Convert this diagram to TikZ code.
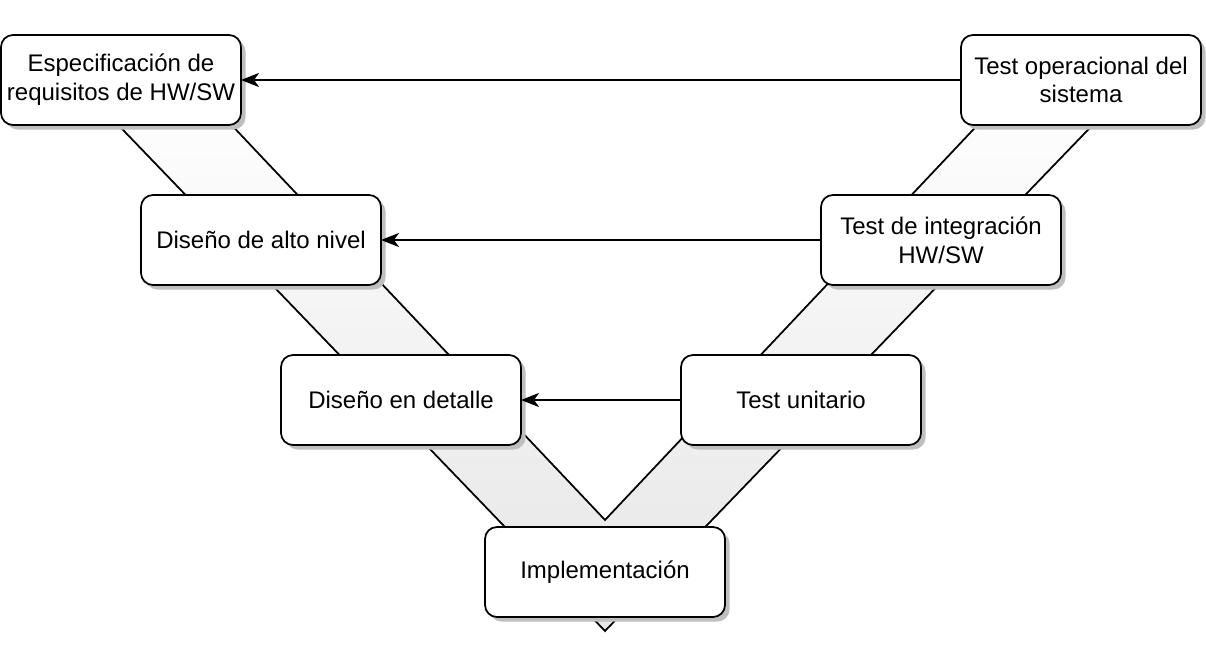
\documentclass[tikz,border=0pt]{standalone}
\usepackage{fontspec}
\setmainfont{Liberation Sans}
\usetikzlibrary{positioning,arrows.meta,shadows}

\begin{document}
\begin{tikzpicture}[x=1pt, y=-1pt,
node distance = 70pt and 160pt,
stage/.style={rectangle, rounded corners=12pt, draw=black, line width=1.75pt, fill=white,
  minimum width=240pt, minimum height=90pt, inner sep=2pt, outer sep=0pt, align=center,
  font=\fontsize{24}{28.8}\selectfont,
  drop shadow={shadow xshift=4.5pt, shadow yshift=-4.5pt, fill=black!25, opacity=1}},
back/.style={-{Stealth[length=18pt, width=14pt, inset=5pt]}, line width=1.75pt},
band/.style={top color=white, bottom color=black!10, draw=black, line width=1.75pt}]

\useasboundingbox (0,0) rectangle (1206,658);

% the V behind the stages
\shade[band] (75,80) -- (605,631) -- (1136,80) -- (1020,80) -- (605,520) -- (189,80) -- cycle;

\node[stage] (espec) at (121,80) {Especificación de\\requisitos de HW/SW};
\node[stage] (alto) [below = 70pt of espec, xshift=140pt] {Diseño de alto nivel};
\node[stage] (detalle) [below = 70pt of alto, xshift=140pt] {Diseño en detalle};
\node[stage] (oper) [right = 720pt of espec] {Test operacional del\\sistema};
\node[stage] (integ) [right = 440pt of alto] {Test de integración\\HW/SW};
\node[stage] (unit) [right = 160pt of detalle] {Test unitario};
\node[stage] (impl) at (605,572) {Implementación};

\draw[back] (oper) -- (espec);
\draw[back] (integ) -- (alto);
\draw[back] (unit) -- (detalle);
\end{tikzpicture}
\end{document}
